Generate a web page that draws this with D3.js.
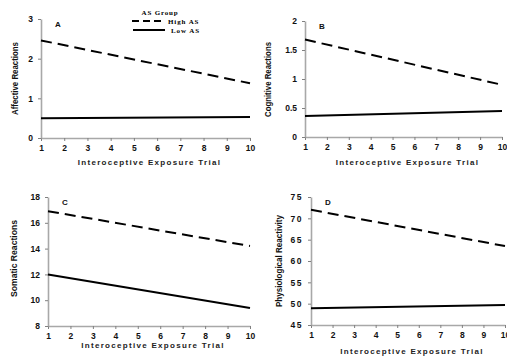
<!DOCTYPE html>
<html>
<head>
<meta charset="utf-8">
<script src="https://cdn.jsdelivr.net/npm/d3@7"></script>
<style>
  body { margin: 0; background: #fff; }
  text { font-family: Arial, "Liberation Sans", sans-serif; }
</style>
</head>
<body>
<div id="chart"></div>
<script>
// trials on the x axis
var trials = [1, 10];
var xTicks = [1, 2, 3, 4, 5, 6, 7, 8, 9, 10];

// fitted lines per panel: value at trial 1 and trial 10
var affectiveHigh = [2.46, 1.38];
var affectiveLow = [0.50, 0.53];
var cognitiveHigh = [1.68, 0.90];
var cognitiveLow = [0.36, 0.45];
var somaticHigh = [16.9, 14.2];
var somaticLow = [12.0, 9.4];
var physioHigh = [72.0, 63.5];
var physioLow = [48.9, 49.7];

var affectiveTicks = [0, 1, 2, 3];
var cognitiveTicks = [0, 0.5, 1, 1.5, 2];
var somaticTicks = [8, 10, 12, 14, 16, 18];
var physioTicks = [45, 50, 55, 60, 65, 70, 75];

var svg = d3.select("#chart")
  .append("svg")
    .attr("width", 507)
    .attr("height", 358);

var panels = [
  {letter: "A", title: "Affective Reactions", high: affectiveHigh, low: affectiveLow, ticks: affectiveTicks,
   left: 41, right: 250, top: 19, bottom: 138, titleX: 16, titleLen: 73, titleY: 78.5, xTitleY: 165, tickFmt: d3.format("d")},
  {letter: "B", title: "Cognitive Reactions", high: cognitiveHigh, low: cognitiveLow, ticks: cognitiveTicks,
   left: 305, right: 502, top: 21, bottom: 137, titleX: 269, titleLen: 75, titleY: 79.5, xTitleY: 165, tickFmt: function(d) { return String(d); }},
  {letter: "C", title: "Somatic Reactions", high: somaticHigh, low: somaticLow, ticks: somaticTicks,
   left: 48, right: 250, top: 197, bottom: 326, titleX: 15, titleLen: 77, titleY: 258.5, xTitleY: 348, tickFmt: d3.format("d")},
  {letter: "D", title: "Physiological Reactivity", high: physioHigh, low: physioLow, ticks: physioTicks,
   left: 311, right: 505, top: 197, bottom: 325, titleX: 280, titleLen: 92, titleY: 261, xTitleY: 354, tickFmt: d3.format("d")}
];

panels.forEach(function(p) {
  var x = d3.scaleLinear().domain([1, 10]).range([p.left, p.right]);
  var y = d3.scaleLinear().domain(d3.extent(p.ticks)).range([p.bottom, p.top]);

  // x axis
  var gx = svg.append("g")
    .attr("transform", "translate(0," + p.bottom + ")")
    .call(d3.axisBottom(x).tickValues(xTicks).tickSize(3).tickPadding(4).tickSizeOuter(0));
  // y axis
  var gy = svg.append("g")
    .attr("transform", "translate(" + p.left + ",0)")
    .call(d3.axisLeft(y).tickValues(p.ticks).tickFormat(p.tickFmt).tickSize(3).tickPadding(5).tickSizeOuter(0));

  [gx, gy].forEach(function(g) {
    g.select(".domain").attr("stroke", "#a8a8a8").attr("stroke-width", 1.6);
    g.selectAll(".tick line").attr("stroke", "#808080");
    g.selectAll(".tick text")
      .attr("fill", "#111")
      .style("font-size", "8.5px")
      .style("font-weight", "bold");
  });
  if (p.letter === "D") gy.selectAll(".tick text").style("letter-spacing", "1.5px");

  // y title
  svg.append("text")
    .attr("transform", "translate(" + p.titleX + "," + p.titleY + ") rotate(-90)")
    .attr("text-anchor", "middle")
    .attr("dominant-baseline", "middle")
    .attr("textLength", p.titleLen)
    .attr("lengthAdjust", "spacingAndGlyphs")
    .style("font-size", "8.5px")
    .style("font-weight", "bold")
    .attr("fill", "#111")
    .text(p.title);

  // x title
  svg.append("text")
    .attr("x", (p.left + p.right) / 2 + 4)
    .attr("y", p.xTitleY)
    .attr("text-anchor", "middle")
    .style("font-size", "8px")
    .style("font-weight", "bold")
    .style("letter-spacing", "1.3px")
    .attr("fill", "#222")
    .text("Interoceptive Exposure Trial");

  // panel letter
  svg.append("text")
    .attr("x", p.left + 14)
    .attr("y", p.top + 8)
    .style("font-size", "8px")
    .style("font-weight", "bold")
    .attr("fill", "#111")
    .text(p.letter);

  var line = d3.line()
    .x(function(d, i) { return x(trials[i]); })
    .y(function(d) { return y(d); });

  svg.append("path")
    .datum(p.high)
    .attr("d", line)
    .attr("fill", "none")
    .attr("stroke", "#000")
    .attr("stroke-width", 2)
    .attr("stroke-dasharray", "11,6");

  svg.append("path")
    .datum(p.low)
    .attr("d", line)
    .attr("fill", "none")
    .attr("stroke", "#000")
    .attr("stroke-width", 2);
});

// legend
var legend = svg.append("g");
legend.append("text")
  .attr("x", 160).attr("y", 15)
  .attr("text-anchor", "middle")
  .style("font-family", "'Liberation Serif', 'DejaVu Serif', serif")
  .style("font-size", "7px")
  .style("font-weight", "bold")
  .style("letter-spacing", "0.8px")
  .text("AS Group");
legend.append("line")
  .attr("x1", 132).attr("x2", 164).attr("y1", 21).attr("y2", 21)
  .attr("stroke", "#000").attr("stroke-width", 2)
  .attr("stroke-dasharray", "7,4");
legend.append("text")
  .attr("x", 168).attr("y", 23.5)
  .style("font-family", "'Liberation Serif', 'DejaVu Serif', serif")
  .style("font-size", "7px")
  .style("font-weight", "bold")
  .style("letter-spacing", "0.9px")
  .text("High AS");
legend.append("line")
  .attr("x1", 133).attr("x2", 165).attr("y1", 30).attr("y2", 30)
  .attr("stroke", "#000").attr("stroke-width", 2);
legend.append("text")
  .attr("x", 171).attr("y", 32.5)
  .style("font-family", "'Liberation Serif', 'DejaVu Serif', serif")
  .style("font-size", "7px")
  .style("font-weight", "bold")
  .style("letter-spacing", "0.9px")
  .text("Low AS");
</script>
</body>
</html>
